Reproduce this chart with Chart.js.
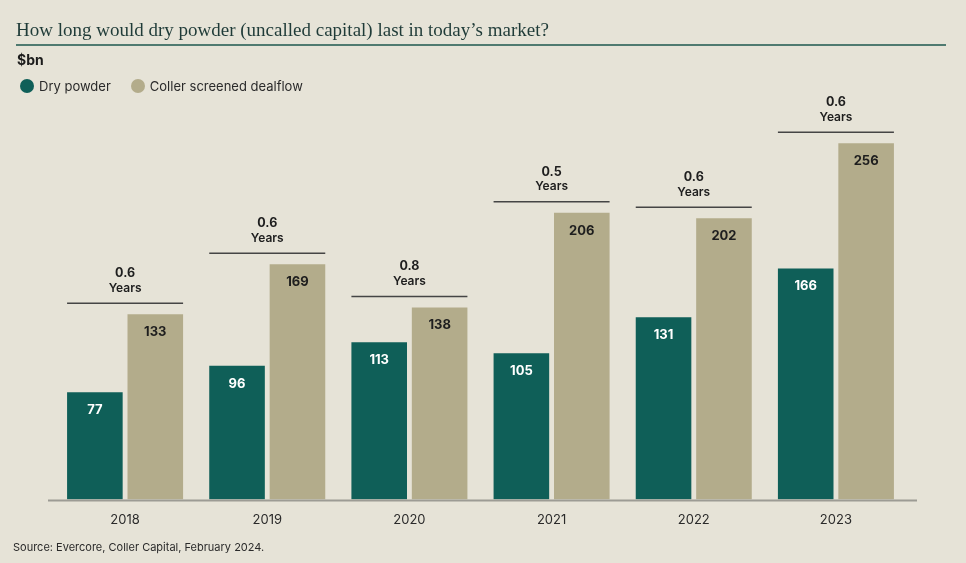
<!DOCTYPE html>
<html>
<head>
<meta charset="utf-8">
<script src="https://cdn.jsdelivr.net/npm/chart.js@4"></script>
<style>
  html, body { margin: 0; padding: 0; background: #e6e3d7; }
  #wrap { position: relative; width: 966px; height: 563px; overflow: hidden; font-family: Inter, Roboto, sans-serif; }
  #title { position: absolute; left: 16px; top: 19px; font-family: 'Liberation Serif', serif; font-size: 19px; color: #1f3b38; white-space: nowrap; }
  #rule { position: absolute; left: 16px; top: 44px; width: 930px; height: 2px; background: #4f7a70; }
  #unit { position: absolute; left: 17px; top: 51px; font-size: 14px; font-weight: 700; color: #1c1c1c; }
  #legend { position: absolute; left: 20px; top: 78px; font-size: 13px; color: #2a2a2a; display: flex; align-items: center; }
  #legend .dot { width: 14px; height: 14px; border-radius: 50%; display: inline-block; margin-right: 5px; }
  #legend .item { display: flex; align-items: center; margin-right: 20px; }
  #source { position: absolute; left: 13px; top: 540px; font-size: 11px; color: #2a2a2a; }
  canvas { position: absolute; left: 0; top: 0; }
</style>
</head>
<body>
<div id="wrap">
  <canvas id="chart" width="966" height="563"></canvas>
  <div id="title">How long would dry powder (uncalled capital) last in today’s market?</div>
  <div id="rule"></div>
  <div id="unit">$bn</div>
  <div id="legend">
    <span class="item"><span class="dot" style="background:#0f5f58"></span>Dry powder</span>
    <span class="item"><span class="dot" style="background:#b3ac8b"></span>Coller screened dealflow</span>
  </div>
  <div id="source">Source: Evercore, Coller Capital, February 2024.</div>
</div>
<script>
// Data
const years = ['2018', '2019', '2020', '2021', '2022', '2023'];
const dryPowder = [77, 96, 113, 105, 131, 166];
const dealflow = [133, 169, 138, 206, 202, 256];
const coverage = ['0.6', '0.6', '0.8', '0.5', '0.6', '0.6'];

const TEAL = '#0f5f58';
const KHAKI = '#b3ac8b';
const FONT = 'Inter, Roboto, sans-serif';

// value labels inside top of each bar
const barLabels = {
    id: 'barLabels',
    afterDatasetsDraw(chart) {
        const ctx = chart.ctx;
        ctx.save();
        ctx.font = `700 13px ${FONT}`;
        ctx.textAlign = 'center';
        ctx.textBaseline = 'middle';
        chart.data.datasets.forEach((ds, di) => {
            chart.getDatasetMeta(di).data.forEach((bar, i) => {
                ctx.fillStyle = di === 0 ? '#ffffff' : '#1e1e1e';
                ctx.fillText(ds.data[i], bar.x, bar.y + 18);
            });
        });
        ctx.restore();
    },
};

// bracket line + "x.x Years" over each year group, and baseline
const groupNotes = {
    id: 'groupNotes',
    afterDatasetsDraw(chart) {
        const ctx = chart.ctx;
        const m0 = chart.getDatasetMeta(0).data;
        const m1 = chart.getDatasetMeta(1).data;
        ctx.save();
        years.forEach((_, i) => {
            const a = m0[i], b = m1[i];
            const left = a.x - a.width / 2;
            const right = b.x + b.width / 2;
            const top = Math.min(a.y, b.y) - 11;
            ctx.strokeStyle = '#454545';
            ctx.lineWidth = 1.5;
            ctx.beginPath();
            ctx.moveTo(left, top);
            ctx.lineTo(right, top);
            ctx.stroke();
            ctx.fillStyle = '#1e1e1e';
            ctx.textAlign = 'center';
            ctx.textBaseline = 'middle';
            ctx.font = `700 12.5px ${FONT}`;
            ctx.fillText(coverage[i], (left + right) / 2, top - 30);
            ctx.font = `600 12px ${FONT}`;
            ctx.fillText('Years', (left + right) / 2, top - 15);
        });
        // baseline
        const y0 = chart.scales.y.getPixelForValue(0);
        ctx.strokeStyle = '#9c9b94';
        ctx.lineWidth = 2;
        ctx.beginPath();
        ctx.moveTo(48, y0 + 1);
        ctx.lineTo(917, y0 + 1);
        ctx.stroke();
        ctx.restore();
    },
};

new Chart(document.getElementById('chart').getContext('2d'), {
    type: 'bar',
    data: {
        labels: years,
        datasets: [
            { label: 'Dry powder', data: dryPowder, backgroundColor: TEAL },
            { label: 'Coller screened dealflow', data: dealflow, backgroundColor: KHAKI },
        ],
    },
    options: {
        responsive: false,
        animation: false,
        devicePixelRatio: 1,
        layout: { padding: { left: 54, right: 59, top: 82, bottom: 22 } },
        datasets: { bar: { barPercentage: 0.92, categoryPercentage: 0.85 } },
        plugins: {
            legend: { display: false },
            tooltip: { enabled: false },
        },
        scales: {
            x: {
                grid: { display: false, drawTicks: false },
                border: { display: false },
                ticks: { color: '#2a2a2a', font: { family: FONT, size: 13 }, padding: 13 },
            },
            y: {
                display: false,
                min: 0,
                max: 300,
            },
        },
    },
    plugins: [barLabels, groupNotes],
});
</script>
</body>
</html>
